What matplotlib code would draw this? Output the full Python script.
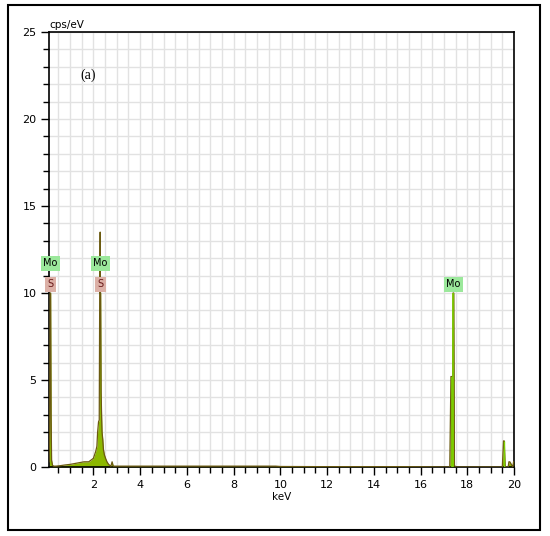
import matplotlib.pyplot as plt
from matplotlib.patches import Rectangle
from matplotlib.ticker import MultipleLocator

# EDS spectrum points (keV, cps/eV)
energy = [0.10, 0.13, 0.15, 0.17, 0.19, 0.21, 0.25, 0.30, 0.40, 0.60, 0.80, 1.00, 1.20, 1.40, 1.60,
          1.80, 1.90, 2.00, 2.05, 2.10, 2.15, 2.18, 2.22, 2.25, 2.27, 2.29, 2.30, 2.31, 2.33,
          2.35, 2.37, 2.40, 2.43, 2.47, 2.52, 2.58, 2.65, 2.75, 2.80, 2.85, 2.95, 3.2, 5.0,
          7.0, 9.0, 9.8, 10.0, 12.0, 15.0, 17.25, 17.30, 17.33, 17.36, 17.39, 17.42, 17.45,
          17.50, 19.50, 19.55, 19.58, 19.62, 19.75, 19.78, 19.82, 19.95, 19.98, 20.0]
counts = [0.3, 2.0, 10.0, 10.0, 3.0, 0.4, 0.1, 0.05, 0.05, 0.08, 0.12, 0.15, 0.2, 0.25, 0.3,
          0.3, 0.4, 0.5, 0.7, 0.9, 1.2, 2.0, 2.6, 2.7, 10.0, 13.5, 10.0, 10.0, 4.3,
          3.0, 2.0, 1.6, 1.0, 0.7, 0.5, 0.3, 0.15, 0.05, 0.3, 0.05, 0.05, 0.05, 0.05,
          0.05, 0.05, 0.05, 0.03, 0.02, 0.02, 0.0, 5.2, 5.2, 0.2, 10.0, 10.0, 0.1,
          0.0, 0.0, 1.5, 1.5, 0.0, 0.0, 0.3, 0.3, 0.0, 0.3, 0.3]

# element labels: (energy, name, level)
mo_labels = [(0.17, 11.7), (2.30, 11.7), (17.40, 10.5)]
s_labels = [(0.17, 10.5), (2.30, 10.5)]

fig = plt.figure(figsize=(5.5, 5.36), dpi=100)
fig.add_artist(Rectangle((0.0145, 0.0112), 0.9675, 0.9795, transform=fig.transFigure,
                         fill=False, edgecolor='black', linewidth=1.5))

ax = fig.add_axes([0.0891, 0.1287, 0.8455, 0.8116])
ax.set_xlim(0.1, 20)
ax.set_ylim(0, 25)

ax.xaxis.set_major_locator(MultipleLocator(2))
ax.xaxis.set_minor_locator(MultipleLocator(0.5))
ax.yaxis.set_major_locator(MultipleLocator(5))
ax.yaxis.set_minor_locator(MultipleLocator(1))
ax.grid(which='minor', color='#e2e2e2', linewidth=1.0)
ax.grid(which='major', color='#e2e2e2', linewidth=1.0)
ax.set_axisbelow(True)
ax.tick_params(which='major', direction='out', length=6, width=1, labelsize=8, pad=3)
ax.tick_params(which='minor', direction='out', length=4, width=1)
ax.set_xticks([2, 4, 6, 8, 10, 12, 14, 16, 18, 20])
for s in ax.spines.values():
    s.set_linewidth(1.2)

# spectrum
ax.fill_between(energy, counts, color='#8cb800', linewidth=0, zorder=2)
ax.plot(energy, counts, color='#6b5a10', linewidth=0.9, zorder=3)
ax.vlines(17.40, 0, 10, color='#7dd000', linewidth=1.2, zorder=3)
ax.vlines(17.33, 0, 5.2, color='#7dd000', linewidth=1.2, zorder=3)
ax.vlines(19.58, 0, 1.5, color='#7dd000', linewidth=1.0, zorder=3)

for e, y in mo_labels:
    ax.text(e, y, 'Mo', fontsize=7, ha='center', va='center', zorder=5,
            bbox=dict(boxstyle='square,pad=0.25', facecolor='#9be89b', edgecolor='none'))
for e, y in s_labels:
    ax.text(e, y, 'S', fontsize=7, ha='center', va='center', color='#6a1a1a', zorder=5,
            bbox=dict(boxstyle='square,pad=0.25', facecolor='#dcb0a6', edgecolor='none'))

ax.text(0.0, 1.005, 'cps/eV', transform=ax.transAxes, fontsize=7.5, ha='left', va='bottom')
ax.text(1.45, 22.5, '(a)', fontsize=10, family='Liberation Serif', ha='left', va='center')
ax.set_xlabel('keV', fontsize=7.5, labelpad=2)

fig.savefig('out.png', dpi=100)
